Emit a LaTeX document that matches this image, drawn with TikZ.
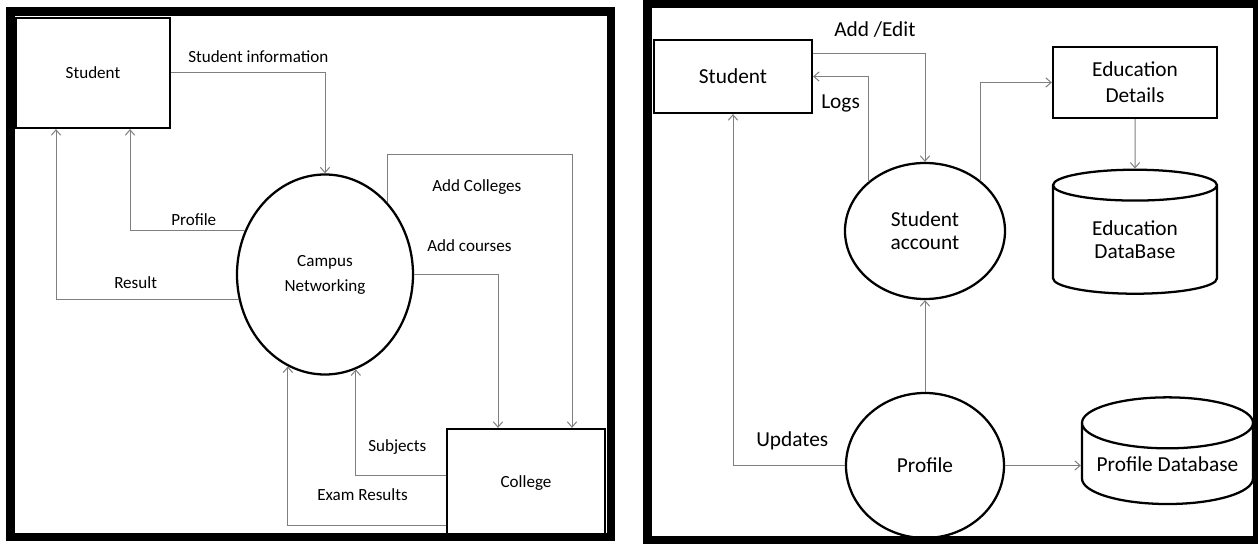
\documentclass[tikz,border=0pt]{standalone}
\usepackage{fontspec}
\setmainfont{Carlito}
\usepackage{tikz}
\usetikzlibrary{
  arrows.meta,
  shapes.geometric,
  calc
}
\definecolor{dfdLine}{HTML}{7F7F7F}
\tikzset{
  lfont/.style={font=\fontsize{12.8}{18.75}\selectfont},
  rfont/.style={font=\fontsize{16}{19.5}\selectfont},
  entity/.style={draw, line width=1.7pt, align=center, inner sep=2pt},
  proc/.style={draw, ellipse, line width=1.7pt, align=center, inner sep=0pt},
  store/.style={draw, cylinder, shape border rotate=90, aspect=0.36, line width=1.7pt, align=center, inner sep=0pt},
  flow/.style={-{Straight Barb[length=4pt,width=7pt]}, line width=0.75pt, dfdLine},
  panel/.style={draw, line width=6.5pt},
  lbl/.style={anchor=west, inner sep=0pt}
}
\begin{document}
\begin{tikzpicture}[x=0.75pt, y=-0.75pt]
  \useasboundingbox (0,0) rectangle (1258,545);
  \draw[panel] (10.5,11.5) rectangle (611,537);
  \draw[panel] (647.5,3.5) rectangle (1257,540);

  \node[entity, lfont, minimum width=115.5pt, minimum height=82.5pt] (stu) at (93,73) {Student};
  \node[proc, lfont, minimum width=132pt, minimum height=150pt] (cn) at (325,274.5) {Campus\\Networking};
  \node[entity, lfont, minimum width=118.5pt, minimum height=81.75pt] (col) at (526,483.5) {College};

  \draw[flow] (stu.east) -| (cn.north);
  \draw[flow] (cn.151) -| ($(stu.south)+(37,0)$);
  \draw[flow] (cn.196) -| ($(stu.south)+(-37,0)$);
  \draw[flow] (cn.49) -- ++(0,-48) -| ($(col.north)+(46,0)$);
  \draw[flow] (cn.east) -| ($(col.north)+(-28,0)$);
  \draw[flow] ($(col.west)+(0,-7.5)$) -| (cn.-72);
  \draw[flow] ($(col.west)+(0,41.5)$) -| (cn.248);

  \node[lbl, lfont] (linfo) at (188,57) {Student information};
  \node[lbl, lfont] (lprof) at (171,220) {Profile};
  \node[lbl, lfont] (lres) at (114,283) {Result};
  \node[lbl, lfont] (lcolg) at (432,187) {Add Colleges};
  \node[lbl, lfont] (lcrs) at (427,246) {Add courses};
  \node[lbl, lfont] (lsub) at (368,447) {Subjects};
  \node[lbl, lfont] (lexam) at (317,495) {Exam Results};

  \node[entity, rfont, minimum width=118.5pt, minimum height=54.75pt] (stu2) at (733,76.5) {Student};
  \node[proc, font=\fontsize{16}{17}\selectfont, minimum width=120pt, minimum height=102pt] (acct) at (925,231) {Student\\account};
  \node[entity, rfont, minimum width=123pt, minimum height=53.25pt] (edu) at (1135,82.5) {Education\\Details};
  \node[store, font=\fontsize{16}{17}\selectfont, minimum width=123pt, minimum height=93pt] (edb) at (1135,240) {Education\\DataBase};
  \node[proc, rfont, minimum width=118.5pt, minimum height=108.75pt] (prof) at (925,465.5) {Profile};
  \node[store, rfont, minimum width=128.25pt, minimum height=80pt] (pdb) at (1167.5,464) {Profile Database};

  \draw[flow] ($(stu2.east)+(0,-22.5)$) -| (acct.north);
  \draw[flow] (acct.139) |- (stu2.east);
  \draw[flow] (acct.42) |- (edu.west);
  \draw[flow] (edu.south) -- (edb.north);
  \draw[flow] (prof.north) -- (acct.south);
  \draw[flow] (prof.west) -| (stu2.south);
  \draw[flow] (prof.east) -- (prof.east -| pdb.west);

  \node[lbl, rfont] (ladd) at (834,30) {Add /Edit};
  \node[lbl, rfont] (llogs) at (821,103) {Logs};
  \node[lbl, rfont] (lupd) at (756,441) {Updates};
\end{tikzpicture}
\end{document}
